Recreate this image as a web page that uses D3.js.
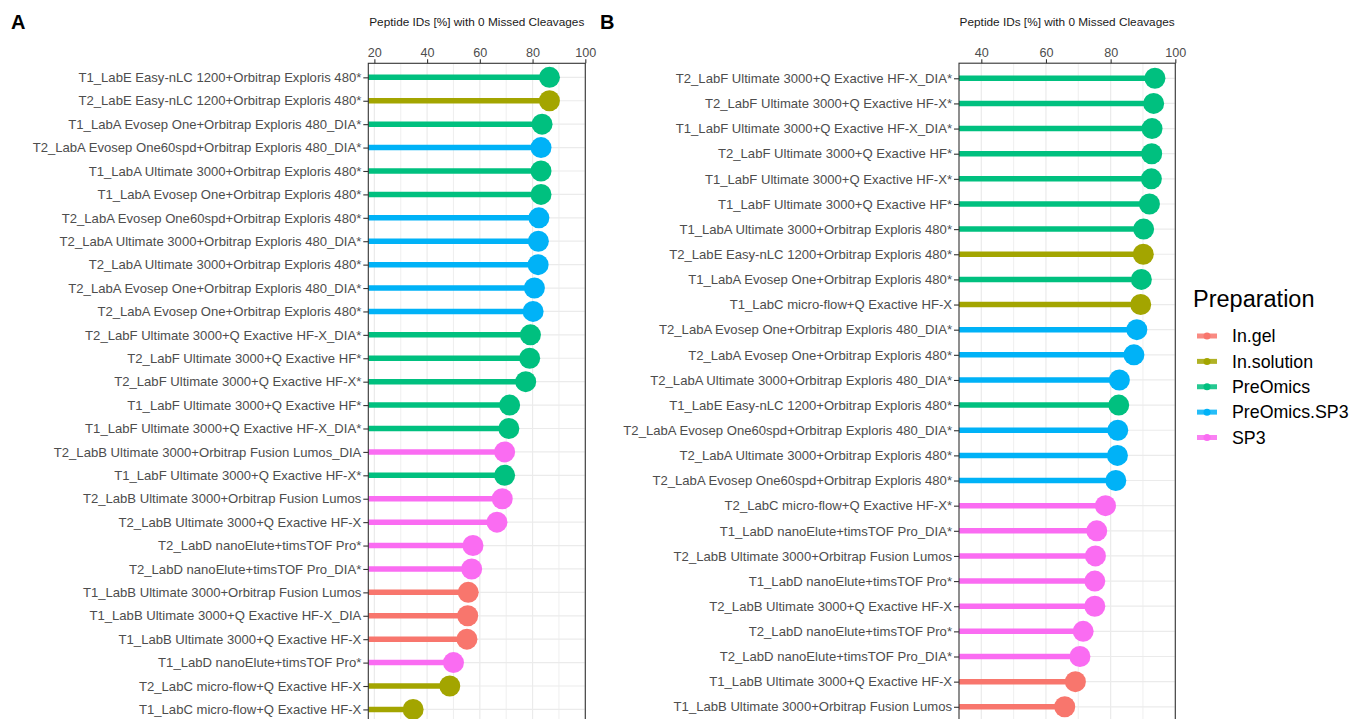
<!DOCTYPE html>
<html>
<head>
<meta charset="utf-8">
<script src="https://cdn.jsdelivr.net/npm/d3@7"></script>
<style>
  html, body { margin: 0; padding: 0; background: #ffffff; }
  svg { display: block; font-family: "Liberation Sans", Arial, sans-serif; }
</style>
</head>
<body>
<svg id="chart" width="1349" height="719"></svg>
<script>
// ---------------- DATA ----------------
const preparations = ["In.gel", "In.solution", "PreOmics", "PreOmics.SP3", "SP3"];
const prepColors = ["#F8766D", "#A3A500", "#00C07F", "#00B2F7", "#FA6CF2"];

const axisTitle = "Peptide IDs [%] with 0 Missed Cleavages";

const labelsA = [
  "T1_LabE Easy-nLC 1200+Orbitrap Exploris 480*",
  "T2_LabE Easy-nLC 1200+Orbitrap Exploris 480*",
  "T1_LabA Evosep One+Orbitrap Exploris 480_DIA*",
  "T2_LabA Evosep One60spd+Orbitrap Exploris 480_DIA*",
  "T1_LabA Ultimate 3000+Orbitrap Exploris 480*",
  "T1_LabA Evosep One+Orbitrap Exploris 480*",
  "T2_LabA Evosep One60spd+Orbitrap Exploris 480*",
  "T2_LabA Ultimate 3000+Orbitrap Exploris 480_DIA*",
  "T2_LabA Ultimate 3000+Orbitrap Exploris 480*",
  "T2_LabA Evosep One+Orbitrap Exploris 480_DIA*",
  "T2_LabA Evosep One+Orbitrap Exploris 480*",
  "T2_LabF Ultimate 3000+Q Exactive HF-X_DIA*",
  "T2_LabF Ultimate 3000+Q Exactive HF*",
  "T2_LabF Ultimate 3000+Q Exactive HF-X*",
  "T1_LabF Ultimate 3000+Q Exactive HF*",
  "T1_LabF Ultimate 3000+Q Exactive HF-X_DIA*",
  "T2_LabB Ultimate 3000+Orbitrap Fusion Lumos_DIA",
  "T1_LabF Ultimate 3000+Q Exactive HF-X*",
  "T2_LabB Ultimate 3000+Orbitrap Fusion Lumos",
  "T2_LabB Ultimate 3000+Q Exactive HF-X",
  "T2_LabD nanoElute+timsTOF Pro*",
  "T2_LabD nanoElute+timsTOF Pro_DIA*",
  "T1_LabB Ultimate 3000+Orbitrap Fusion Lumos",
  "T1_LabB Ultimate 3000+Q Exactive HF-X_DIA",
  "T1_LabB Ultimate 3000+Q Exactive HF-X",
  "T1_LabD nanoElute+timsTOF Pro*",
  "T2_LabC micro-flow+Q Exactive HF-X",
  "T1_LabC micro-flow+Q Exactive HF-X"
];
const valuesA = [86.4, 86.4, 83.6, 83.2, 83.2, 83.2, 82.4, 82.2, 82.1, 80.7, 80.2, 79.2, 78.9, 77.4,
                 71.3, 71.0, 69.4, 69.4, 68.5, 66.5, 57.4, 56.9, 55.6, 55.4, 55.1, 50.0, 48.6, 34.7];
const prepA = ["PreOmics", "In.solution", "PreOmics", "PreOmics.SP3", "PreOmics", "PreOmics",
               "PreOmics.SP3", "PreOmics.SP3", "PreOmics.SP3", "PreOmics.SP3", "PreOmics.SP3",
               "PreOmics", "PreOmics", "PreOmics", "PreOmics", "PreOmics", "SP3", "PreOmics",
               "SP3", "SP3", "SP3", "SP3", "In.gel", "In.gel", "In.gel", "SP3", "In.solution", "In.solution"];
const ticksA = [20, 40, 60, 80, 100];
const minorA = [30, 50, 70, 90];
const domainA = [17.7, 100];

const labelsB = [
  "T2_LabF Ultimate 3000+Q Exactive HF-X_DIA*",
  "T2_LabF Ultimate 3000+Q Exactive HF-X*",
  "T1_LabF Ultimate 3000+Q Exactive HF-X_DIA*",
  "T2_LabF Ultimate 3000+Q Exactive HF*",
  "T1_LabF Ultimate 3000+Q Exactive HF-X*",
  "T1_LabF Ultimate 3000+Q Exactive HF*",
  "T1_LabA Ultimate 3000+Orbitrap Exploris 480*",
  "T2_LabE Easy-nLC 1200+Orbitrap Exploris 480*",
  "T1_LabA Evosep One+Orbitrap Exploris 480*",
  "T1_LabC micro-flow+Q Exactive HF-X",
  "T2_LabA Evosep One+Orbitrap Exploris 480_DIA*",
  "T2_LabA Evosep One+Orbitrap Exploris 480*",
  "T2_LabA Ultimate 3000+Orbitrap Exploris 480_DIA*",
  "T1_LabE Easy-nLC 1200+Orbitrap Exploris 480*",
  "T2_LabA Evosep One60spd+Orbitrap Exploris 480_DIA*",
  "T2_LabA Ultimate 3000+Orbitrap Exploris 480*",
  "T2_LabA Evosep One60spd+Orbitrap Exploris 480*",
  "T2_LabC micro-flow+Q Exactive HF-X*",
  "T1_LabD nanoElute+timsTOF Pro_DIA*",
  "T2_LabB Ultimate 3000+Orbitrap Fusion Lumos",
  "T1_LabD nanoElute+timsTOF Pro*",
  "T2_LabB Ultimate 3000+Q Exactive HF-X",
  "T2_LabD nanoElute+timsTOF Pro*",
  "T2_LabD nanoElute+timsTOF Pro_DIA*",
  "T1_LabB Ultimate 3000+Q Exactive HF-X",
  "T1_LabB Ultimate 3000+Orbitrap Fusion Lumos"
];
const valuesB = [93.7, 93.3, 92.8, 92.7, 92.6, 92.0, 90.2, 90.1, 89.5, 89.3, 88.1, 87.2, 82.7,
                 82.5, 82.2, 82.1, 81.6, 78.4, 75.7, 75.3, 75.1, 75.1, 71.5, 70.5, 69.1, 65.8];
const prepB = ["PreOmics", "PreOmics", "PreOmics", "PreOmics", "PreOmics", "PreOmics", "PreOmics",
               "In.solution", "PreOmics", "In.solution", "PreOmics.SP3", "PreOmics.SP3", "PreOmics.SP3",
               "PreOmics", "PreOmics.SP3", "PreOmics.SP3", "PreOmics.SP3", "SP3", "SP3", "SP3", "SP3",
               "SP3", "SP3", "SP3", "In.gel", "In.gel"];
const ticksB = [40, 60, 80, 100];
const minorB = [50, 70, 90];
const domainB = [33.1, 100];

// ---------------- DRAW ----------------
const svg = d3.select("#chart");
const color = d3.scaleOrdinal().domain(preparations).range(prepColors);
const textGray = "#4D4D4D";

function panel(cfg) {
  const { letter, letterX, left, right, top, step, labels, values, preps, ticks, minor, domain } = cfg;
  const n = labels.length;
  const bottom = top + step * (n - 1 + 1.2);
  const x = d3.scaleLinear().domain(domain).range([left, right]);
  const y = d3.scalePoint().domain(labels).range([top, bottom]).padding(0.6);
  const rows = labels.map((l, i) => ({ label: l, value: values[i], prep: preps[i] }));

  const clipId = "clip" + letter;
  svg.append("clipPath").attr("id", clipId)
    .append("rect").attr("x", left).attr("y", top).attr("width", right - left).attr("height", bottom - top);

  const g = svg.append("g");
  g.append("rect").attr("x", left).attr("y", top).attr("width", right - left).attr("height", bottom - top)
    .attr("fill", "#ffffff");

  const grid = g.append("g").attr("clip-path", `url(#${clipId})`);
  grid.selectAll(".minor").data(minor).join("line")
    .attr("x1", d => x(d)).attr("x2", d => x(d)).attr("y1", top).attr("y2", bottom)
    .attr("stroke", "#EBEBEB").attr("stroke-width", 0.8);
  grid.selectAll(".major").data(ticks).join("line")
    .attr("x1", d => x(d)).attr("x2", d => x(d)).attr("y1", top).attr("y2", bottom)
    .attr("stroke", "#EBEBEB").attr("stroke-width", 1.2);
  grid.selectAll(".hmajor").data(labels).join("line")
    .attr("x1", left).attr("x2", right).attr("y1", d => y(d)).attr("y2", d => y(d))
    .attr("stroke", "#EBEBEB").attr("stroke-width", 1.2);

  const marks = g.append("g").attr("clip-path", `url(#${clipId})`);
  marks.selectAll(".seg").data(rows).join("line")
    .attr("x1", x(domain[0]) - 5).attr("x2", d => x(d.value))
    .attr("y1", d => y(d.label)).attr("y2", d => y(d.label))
    .attr("stroke", d => color(d.prep)).attr("stroke-width", 5.5);
  marks.selectAll(".dot").data(rows).join("circle")
    .attr("cx", d => x(d.value)).attr("cy", d => y(d.label)).attr("r", 10.5)
    .attr("fill", d => color(d.prep));

  g.append("rect").attr("x", left).attr("y", top).attr("width", right - left).attr("height", bottom - top)
    .attr("fill", "none").attr("stroke", "#333333").attr("stroke-width", 1.1);

  const xAxis = g.append("g").attr("transform", `translate(0,${top})`)
    .call(d3.axisTop(x).tickValues(ticks).tickSize(4).tickPadding(2).tickFormat(d3.format("d")));
  xAxis.select(".domain").remove();
  xAxis.selectAll("line").attr("stroke", "#333333").attr("stroke-width", 1.1);
  xAxis.selectAll("text").attr("fill", textGray).attr("font-size", "12.6px")
    .attr("font-family", "Liberation Sans, Arial, sans-serif");

  const yAxis = g.append("g").attr("transform", `translate(${left},0)`)
    .call(d3.axisLeft(y).tickSize(5).tickPadding(2));
  yAxis.select(".domain").remove();
  yAxis.selectAll("line").attr("stroke", "#333333").attr("stroke-width", 1.1);
  yAxis.selectAll("text").attr("fill", textGray).attr("font-size", "13.1px")
    .attr("font-family", "Liberation Sans, Arial, sans-serif");

  g.append("text").attr("x", (left + right) / 2).attr("y", 26)
    .attr("text-anchor", "middle").attr("font-size", "11.8px").attr("fill", "#1a1a1a")
    .text(axisTitle);

  g.append("text").attr("x", letterX).attr("y", 29)
    .attr("font-size", "20px").attr("font-weight", "bold").attr("fill", "#000")
    .text(letter);
}

panel({ letter: "A", letterX: 11, left: 368.3, right: 585.3, top: 63.3, step: 23.41,
        labels: labelsA, values: valuesA, preps: prepA, ticks: ticksA, minor: minorA, domain: domainA });
panel({ letter: "B", letterX: 600, left: 959, right: 1175.3, top: 63.2, step: 25.14,
        labels: labelsB, values: valuesB, preps: prepB, ticks: ticksB, minor: minorB, domain: domainB });

// ---------------- LEGEND ----------------
const legend = svg.append("g").attr("transform", "translate(1193,0)");
legend.append("text").attr("x", 0).attr("y", 307).attr("font-size", "23.5px").attr("fill", "#000")
  .text("Preparation");
const legendY = d3.scalePoint().domain(preparations).range([336, 437.5]);
const items = legend.selectAll(".item").data(preparations).join("g")
  .attr("transform", d => `translate(0,${legendY(d)})`);
items.append("line").attr("x1", 4).attr("x2", 24).attr("y1", 0).attr("y2", 0)
  .attr("stroke", d => color(d)).attr("stroke-width", 5).attr("opacity", 0.85);
items.append("circle").attr("cx", 14).attr("cy", 0).attr("r", 3.5).attr("fill", d => color(d));
items.append("text").attr("x", 39).attr("y", 0).attr("dy", "0.35em")
  .attr("font-size", "17.8px").attr("fill", "#000").text(d => d);
</script>
</body>
</html>
